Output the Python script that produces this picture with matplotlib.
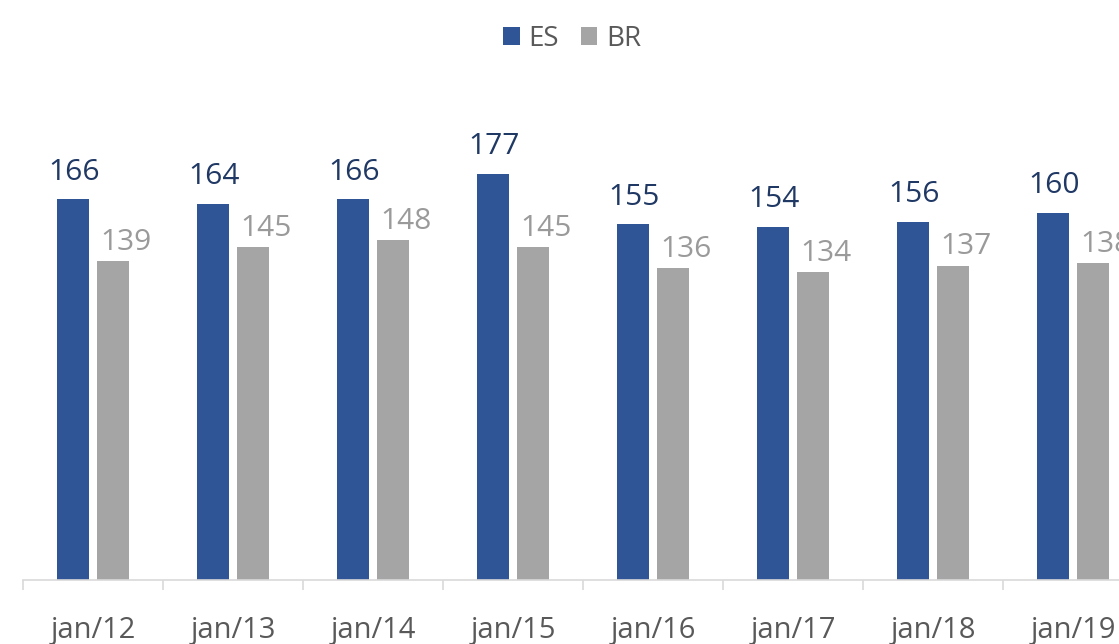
import numpy as np
import matplotlib.pyplot as plt
import matplotlib.ticker as ticker

plt.rcParams['font.family'] = ['Open Sans', 'DejaVu Sans']

# data
periods = ["jan/12", "jan/13", "jan/14", "jan/15", "jan/16", "jan/17", "jan/18", "jan/19"]
es_values = [166, 164, 166, 177, 155, 154, 156, 160]
br_values = [139, 145, 148, 145, 136, 134, 137, 138]

es_color = "#2F5597"
br_color = "#A5A5A5"
text_gray = "#595959"

W, H = 1119, 644
fig = plt.figure(figsize=(W / 100, H / 100), dpi=100)
# axis spans 23 px .. 1143 px (chart is cut on the right edge)
ax = fig.add_axes([23 / W, (H - 580) / H, 1120 / W, 459 / H])

x = np.arange(len(periods))
bw = 0.229
off = 0.143
ax.bar(x - off, es_values, bw, color=es_color, label="ES")
ax.bar(x + off, br_values, bw, color=br_color, label="BR")

for xi, v in zip(x, es_values):
    ax.annotate(str(v), (xi - off, v), xytext=(1, 9), textcoords="offset points",
                ha="center", va="bottom", fontsize=21.5, color="#1F3864")
for xi, v in zip(x, br_values):
    ax.annotate(str(v), (xi + off, v), xytext=(9, 3), textcoords="offset points",
                ha="center", va="bottom", fontsize=21.5, color="#9A9A9A")

ax.set_xlim(-0.5, len(periods) - 0.5)
ax.set_ylim(0, 200)
ax.set_yticks([])
for s in ["top", "right", "left"]:
    ax.spines[s].set_visible(False)
ax.spines["bottom"].set_color("#D9D9D9")
ax.spines["bottom"].set_linewidth(1.2)

ax.xaxis.set_major_locator(ticker.FixedLocator(x))
ax.xaxis.set_major_formatter(ticker.FixedFormatter(periods))
ax.xaxis.set_minor_locator(ticker.FixedLocator(np.arange(-0.5, len(periods), 1.0)))
ax.tick_params(axis="x", which="major", length=0, pad=26, labelsize=21, labelcolor=text_gray)
ax.tick_params(axis="x", which="minor", length=7, width=1.2, color="#D9D9D9")

fig.legend(loc="center", bbox_to_anchor=(572 / W, 1 - 39 / H), ncol=2, frameon=False,
           fontsize=20, labelcolor=text_gray, handlelength=0.6, handleheight=0.6,
           handletextpad=0.3, columnspacing=0.8)

plt.savefig("out.png", dpi=100)
plt.close()
